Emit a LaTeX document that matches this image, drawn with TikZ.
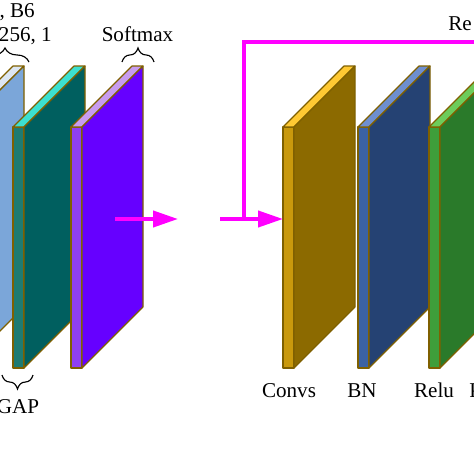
\documentclass[tikz,border=0pt]{standalone}
\usepackage{fontspec}
\setmainfont{Liberation Serif}
\usepackage{xcolor}
\usepackage{tikz}
\usetikzlibrary{arrows.meta, decorations.pathreplacing}

\definecolor{slabedge}{HTML}{7F6000}
\definecolor{skipmag}{HTML}{FF00FF}
\definecolor{gapfront}{HTML}{9CB8E0}
\definecolor{gapside}{HTML}{7BA6D9}
\definecolor{gaptop}{HTML}{DCE6F2}
\definecolor{fcfront}{HTML}{1E7B72}
\definecolor{fcside}{HTML}{005F5F}
\definecolor{fctop}{HTML}{3CE0D0}
\definecolor{smfront}{HTML}{8F3FF2}
\definecolor{smside}{HTML}{6600FF}
\definecolor{smtop}{HTML}{C79CF0}
\definecolor{cvfront}{HTML}{C9990C}
\definecolor{cvside}{HTML}{8C6A00}
\definecolor{cvtop}{HTML}{FFC933}
\definecolor{bnfront}{HTML}{3B62A3}
\definecolor{bnside}{HTML}{254273}
\definecolor{bntop}{HTML}{6F8FCF}
\definecolor{rlfront}{HTML}{3E9E3A}
\definecolor{rlside}{HTML}{2A7A2A}
\definecolor{rltop}{HTML}{6DCC5A}

% x-position of front face, front fill, side fill, top fill
\newcommand{\slab}[4]{%
  \filldraw[slabline, fill=#2] (#1,127) rectangle ++(11,241);
  \filldraw[slabline, fill=#4] (#1,127) -- ++(11,0) -- ++(61,-61) -- ++(-11,0) -- cycle;
  \filldraw[slabline, fill=#3] (#1+11,127) -- ++(61,-61) -- ++(0,241) -- ++(-61,61) -- cycle;
}

\begin{document}
\begin{tikzpicture}[
    x=0.025cm, y=-0.025cm,
    slabline/.style={draw=slabedge, line width=0.8pt, line join=round},
    lbl/.style={font=\fontsize{15}{18}\selectfont, inner sep=0pt},
    brc/.style={decorate, decoration={brace, amplitude=10pt}, line width=0.8pt},
    skip/.style={draw=skipmag, line width=2.6pt},
    skiparrow/.style={skip, -{Triangle[length=0.62cm, width=0.4cm]}},
]
\useasboundingbox (0,0) rectangle (474,474);
\clip (0,0) rectangle (474,474);

% Head layers
\slab{-48}{gapfront}{gapside}{gaptop}
\slab{13}{fcfront}{fcside}{fctop}
\slab{71}{smfront}{smside}{smtop}

% Block layers
\slab{283}{cvfront}{cvside}{cvtop}
\slab{358}{bnfront}{bnside}{bntop}
\slab{429}{rlfront}{rlside}{rltop}

% Braces
\draw[brc] (-19,62) -- (29,62);
\draw[brc] (122,62) -- (154,62);
\draw[brc] (33,375) -- (2,375);

% Labels
\node[lbl, anchor=base east] (b6) at (35,17) {, B6};
\node[lbl, anchor=base east] (dims) at (52,41) {256, 1};
\node[lbl, anchor=base] (softmax) at (137.5,41) {Softmax};
\node[lbl, anchor=base] (gap) at (18,413) {GAP};
\node[lbl, anchor=base] (convs) at (289,397) {Convs};
\node[lbl, anchor=base] (bn) at (362,397) {BN};
\node[lbl, anchor=base] (relu) at (434,397) {Relu};
\node[lbl, anchor=base west] (nextl) at (469,397) {P};
\node[lbl, anchor=base west] (res) at (448,30) {Re};

% Arrows
\coordinate (hout) at (115,219);
\coordinate (hnext) at (178,219);
\coordinate (bin) at (220,219);
\coordinate (split) at (244,219);
\coordinate (cin) at (283,219);
\coordinate (rout) at (490,42);
\draw[skiparrow] (hout) -- (hnext);
\draw[skiparrow] (bin) -- (cin);
\draw[skip] (split) |- (rout);
\end{tikzpicture}
\end{document}
